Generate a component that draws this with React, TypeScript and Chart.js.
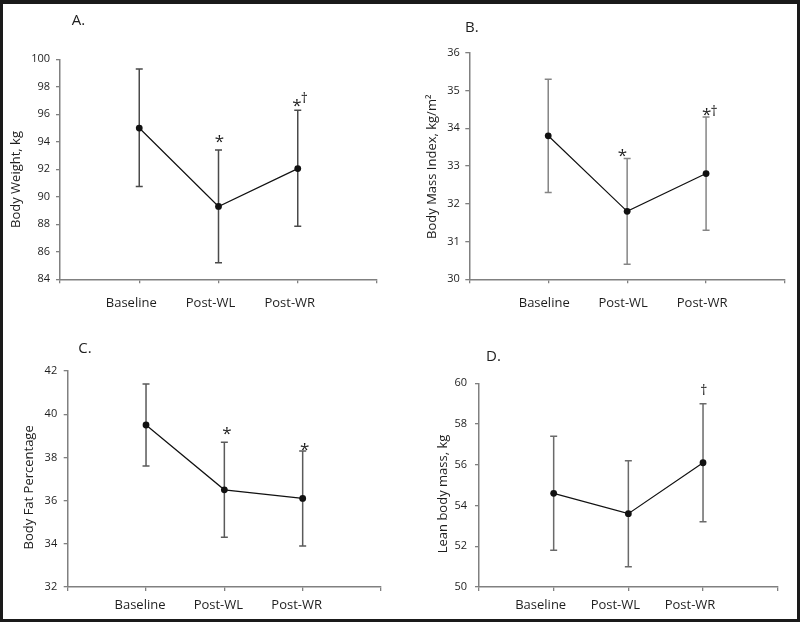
import React, { useEffect, useRef } from "react";
import { Chart, registerables } from "chart.js";

Chart.register(...registerables);

// ---------------- data ----------------
const categories = ["Baseline", "Post-WL", "Post-WR"];

const weightMean = [95.0, 89.3, 92.05];
const weightUpper = [99.3, 93.4, 96.3];
const weightLower = [90.75, 85.2, 87.85];
const weightMarks = ["", "*", "*†"];
const weightTicks = [84, 86, 88, 90, 92, 94, 96, 98, 100];

const bmiMean = [33.8, 31.8, 32.8];
const bmiUpper = [35.3, 33.2, 34.3];
const bmiLower = [32.3, 30.4, 31.3];
const bmiMarks = ["", "*", "*†"];
const bmiTicks = [30, 31, 32, 33, 34, 35, 36];

const fatMean = [39.5, 36.5, 36.1];
const fatUpper = [41.4, 38.7, 38.3];
const fatLower = [37.6, 34.3, 33.9];
const fatMarks = ["", "*", "*"];
const fatTicks = [32, 34, 36, 38, 40, 42];

const leanMean = [54.6, 53.6, 56.1];
const leanUpper = [57.4, 56.2, 59.0];
const leanLower = [51.8, 51.0, 53.2];
const leanMarks = ["", "", "†"];
const leanTicks = [50, 52, 54, 56, 58, 60];

// ---------------- layout / style ----------------
const FONT = "'Open Sans', 'DejaVu Sans', sans-serif";

type Box = { x: number; y: number; w: number; h: number };
type Area = { l: number; t: number; r: number; b: number };
type Panel = {
  letter: string;
  letterPos: [number, number];
  title: string;
  titlePos: [number, number];
  mean: number[];
  upper: number[];
  lower: number[];
  marks: string[];
  ticks: number[];
  box: Box;
  area: Area;
  errColor: string;
  labelOffset: number;
  xPad: number;
  yPad: number;
  // per category: star offset, dagger offset relative to (bar x, error top)
  markOffsets: { star?: [number, number]; dagger?: [number, number] }[];
};

const panels: Panel[] = [
  {
    letter: "A.",
    letterPos: [71.7, 25],
    title: "Body Weight, kg",
    titlePos: [16, 179],
    mean: weightMean,
    upper: weightUpper,
    lower: weightLower,
    marks: weightMarks,
    ticks: weightTicks,
    box: { x: 3, y: 3, w: 397, h: 308 },
    area: { l: 60, t: 59.3, r: 377, b: 279.3 },
    errColor: "#4a4a4a",
    labelOffset: -8,
    xPad: 12,
    yPad: 6,
    markOffsets: [{}, { star: [0.7, -11.3] }, { star: [-1, -6.7], dagger: [6.6, -12.5] }],
  },
  {
    letter: "B.",
    letterPos: [465, 31.7],
    title: "Body Mass Index, kg/m²",
    titlePos: [432, 166.5],
    mean: bmiMean,
    upper: bmiUpper,
    lower: bmiLower,
    marks: bmiMarks,
    ticks: bmiTicks,
    box: { x: 400, y: 3, w: 397, h: 308 },
    area: { l: 469.3, t: 52.7, r: 790.7, b: 279.3 },
    errColor: "#858585",
    labelOffset: -4,
    xPad: 12,
    yPad: 5.5,
    markOffsets: [{}, { star: [-4.8, -5] }, { star: [0.4, -5], dagger: [8, -6.7] }],
  },
  {
    letter: "C.",
    letterPos: [78.3, 352.7],
    title: "Body Fat Percentage",
    titlePos: [29.5, 487],
    mean: fatMean,
    upper: fatUpper,
    lower: fatLower,
    marks: fatMarks,
    ticks: fatTicks,
    box: { x: 3, y: 311, w: 397, h: 308 },
    area: { l: 67.7, t: 371, r: 381, b: 587 },
    errColor: "#5a5a5a",
    labelOffset: -6,
    xPad: 6,
    yPad: 6.5,
    markOffsets: [{}, { star: [2.4, -11] }, { star: [1.7, -4] }],
  },
  {
    letter: "D.",
    letterPos: [486, 361],
    title: "Lean body mass, kg",
    titlePos: [443, 493.5],
    mean: leanMean,
    upper: leanUpper,
    lower: leanLower,
    marks: leanMarks,
    ticks: leanTicks,
    box: { x: 400, y: 311, w: 397, h: 308 },
    area: { l: 479, t: 383.3, r: 777.7, b: 587 },
    errColor: "#6a6a6a",
    labelOffset: -13,
    xPad: 6,
    yPad: 8,
    markOffsets: [{}, {}, { dagger: [0.6, -14] }],
  },
];

function drawCentered(ctx: CanvasRenderingContext2D, text: string, cx: number, cy: number) {
  const m = ctx.measureText(text);
  const w = m.actualBoundingBoxLeft + m.actualBoundingBoxRight;
  const h = m.actualBoundingBoxAscent + m.actualBoundingBoxDescent;
  const x = cx - w / 2 + m.actualBoundingBoxLeft;
  const y = cy - h / 2 + m.actualBoundingBoxAscent;
  ctx.fillText(text, x, y);
}

function PanelChart({ p }: { p: Panel }) {
  const ref = useRef<HTMLCanvasElement>(null);
  useEffect(() => {
    const canvas = ref.current;
    if (!canvas) return;
    const { box, area } = p;
    const ox = box.x;
    const oy = box.y;

    const overlay = {
      id: "overlay" + p.letter,
      beforeDatasetsDraw(chart: any) {
        const ctx: CanvasRenderingContext2D = chart.ctx;
        const xs = chart.scales.x;
        const ys = chart.scales.y;
        ctx.save();
        ctx.strokeStyle = p.errColor;
        ctx.lineWidth = 1.5;
        p.mean.forEach((_, i) => {
          const x = xs.getPixelForValue(i + 1);
          const yu = ys.getPixelForValue(p.upper[i]);
          const yl = ys.getPixelForValue(p.lower[i]);
          ctx.beginPath();
          ctx.moveTo(x, yu);
          ctx.lineTo(x, yl);
          ctx.moveTo(x - 3.5, yu);
          ctx.lineTo(x + 3.5, yu);
          ctx.moveTo(x - 3.5, yl);
          ctx.lineTo(x + 3.5, yl);
          ctx.stroke();
        });
        ctx.restore();
      },
      afterDraw(chart: any) {
        const ctx: CanvasRenderingContext2D = chart.ctx;
        const xs = chart.scales.x;
        const ys = chart.scales.y;
        ctx.save();
        ctx.fillStyle = "#1e1e1e";
        // panel letter
        ctx.font = `15px ${FONT}`;
        ctx.textAlign = "left";
        ctx.textBaseline = "alphabetic";
        ctx.fillText(p.letter, p.letterPos[0] - ox, p.letterPos[1] - oy);
        // y title
        ctx.save();
        ctx.translate(p.titlePos[0] - ox, p.titlePos[1] - oy);
        ctx.rotate(-Math.PI / 2);
        ctx.font = `13px ${FONT}`;
        ctx.textAlign = "left";
        drawCentered(ctx, p.title, 0, 0);
        ctx.restore();
        // significance marks
        ctx.textAlign = "left";
        p.marks.forEach((mark, i) => {
          if (!mark) return;
          const bx = xs.getPixelForValue(i + 1);
          const top = ys.getPixelForValue(p.upper[i]);
          const off = p.markOffsets[i] || {};
          if (mark.includes("*") && off.star) {
            ctx.font = `17px ${FONT}`;
            drawCentered(ctx, "*", bx + off.star[0], top + off.star[1]);
          }
          if (mark.includes("†") && off.dagger) {
            ctx.font = `14px ${FONT}`;
            drawCentered(ctx, "†", bx + off.dagger[0], top + off.dagger[1]);
          }
        });
        ctx.restore();
      },
    };

    const gridCfg = {
      drawOnChartArea: false,
      drawTicks: true,
      tickLength: 4,
      color: "#808080",
      lineWidth: 1.3,
    };
    const borderCfg = { display: true, color: "#808080", width: 1.5 };

    const chart = new Chart(canvas, {
      type: "line",
      data: {
        datasets: [
          {
            data: p.mean.map((v, i) => ({ x: i + 1, y: v })),
            borderColor: "#111",
            borderWidth: 1.2,
            pointRadius: 3.4,
            pointBackgroundColor: "#111",
            pointBorderWidth: 0,
            tension: 0,
          },
        ],
      },
      options: {
        responsive: false,
        animation: false,
        events: [],
        layout: {
          padding: { left: 0, top: area.t - oy, right: ox + box.w - area.r, bottom: 0 },
        },
        plugins: { legend: { display: false }, tooltip: { enabled: false } },
        scales: {
          x: {
            type: "linear",
            min: 0,
            max: categories.length + 1,
            afterBuildTicks: (s: any) => {
              s.ticks = Array.from({ length: categories.length + 2 }, (_, i) => ({ value: i }));
            },
            afterFit: (s: any) => {
              s.height = oy + box.h - area.b;
            },
            grid: gridCfg,
            border: borderCfg,
            ticks: {
              autoSkip: false,
              maxRotation: 0,
              padding: p.xPad,
              labelOffset: p.labelOffset,
              color: "#1e1e1e",
              font: { family: FONT, size: 13 },
              callback: (v: any) => categories[Number(v) - 1] ?? "",
            },
          },
          y: {
            type: "linear",
            min: p.ticks[0],
            max: p.ticks[p.ticks.length - 1],
            afterBuildTicks: (s: any) => {
              s.ticks = p.ticks.map((v) => ({ value: v }));
            },
            afterFit: (s: any) => {
              s.width = area.l - ox;
            },
            grid: gridCfg,
            border: borderCfg,
            ticks: {
              padding: p.yPad,
              color: "#1e1e1e",
              font: { family: FONT, size: 11 },
              callback: (v: any) => String(v),
            },
          },
        },
      } as any,
      plugins: [overlay],
    });
    return () => chart.destroy();
  }, [p]);

  return (
    <canvas
      ref={ref}
      width={p.box.w}
      height={p.box.h}
      style={{ position: "absolute", left: p.box.x, top: p.box.y, width: p.box.w, height: p.box.h }}
    />
  );
}

export default function App() {
  return (
    <div
      style={{
        position: "fixed",
        left: 0,
        top: 0,
        width: 800,
        height: 622,
        background: "#fff",
        overflow: "hidden",
      }}
    >
      <div
        style={{
          position: "absolute",
          left: 0,
          top: 0,
          width: 800,
          height: 622,
          boxSizing: "border-box",
          border: "3px solid #1a1a1a",
          borderTopWidth: 4,
        }}
      />
      {panels.map((p) => (
        <PanelChart key={p.letter} p={p} />
      ))}
    </div>
  );
}
